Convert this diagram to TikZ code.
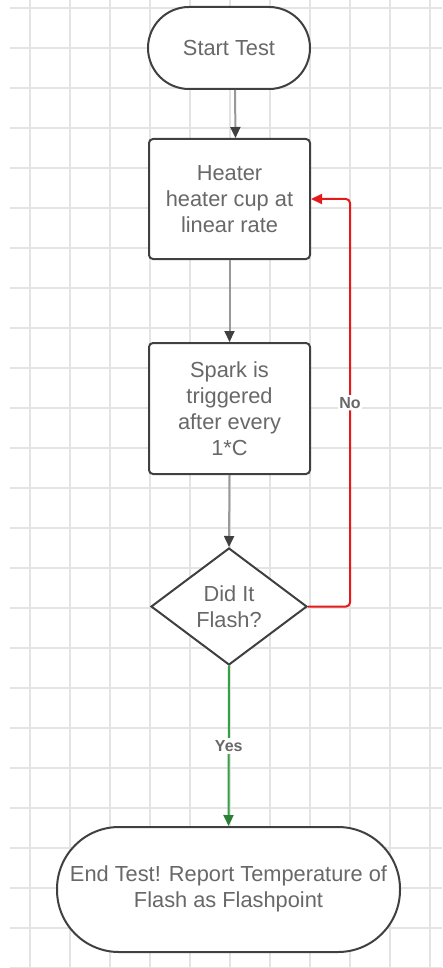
\documentclass[tikz,border=0pt]{standalone}
\usepackage{fontspec}
\setmainfont{Liberation Sans}
\usetikzlibrary{arrows.meta,shapes.geometric}
\definecolor{gridc}{HTML}{E4E4E4}
\definecolor{edgec}{HTML}{404040}
\definecolor{txtc}{HTML}{686868}
\definecolor{linkc}{HTML}{999999}
\definecolor{noc}{HTML}{E51A1A}
\definecolor{yesc}{HTML}{34A043}
\tikzset{
  shapebase/.style={draw=edgec, line width=2pt, fill=white, text=txtc,
    align=center, inner sep=0pt,
    font=\fontsize{21.8pt}{26pt}\selectfont},
  terminal/.style={shapebase, rectangle, rounded corners=#1},
  stepbox/.style={shapebase, rectangle, rounded corners=4pt,
    minimum width=161pt},
  decision/.style={shapebase, diamond, minimum width=156pt, minimum height=117pt},
  flow/.style={draw=linkc, line width=2pt,
    -{Triangle[width=10pt,length=11pt,color=edgec]}},
  branchlbl/.style={font=\bfseries\fontsize{16pt}{18pt}\selectfont, text=txtc,
    fill=white, inner sep=2pt}
}
\begin{document}
\begin{tikzpicture}[x=1pt,y=-1pt]
  \useasboundingbox (0,0) rectangle (442,968);
  % background grid
  \foreach \gx in {30,70,...,430}
    \draw[gridc, line width=1.4pt] (\gx,0) -- (\gx,968);
  \foreach \gy in {8,48,...,968}
    \draw[gridc, line width=1.4pt] (10,\gy) -- (442,\gy);

  % process nodes
  \node[terminal=41pt, minimum width=162pt, minimum height=82pt]
    (start) at (229,48) {Start Test};
  \node[stepbox, minimum height=120pt] (heat) at (229.5,199)
    {Heater\\heater cup at\\linear rate};
  \node[stepbox, minimum height=131pt] (spark) at (229.5,408.5)
    {Spark is\\triggered\\after every\\1*C};
  \node[decision] (dec) at (229,606.5) {Did It\\Flash?};
  \node[terminal=62pt, minimum width=343pt, minimum height=125pt]
    (endn) at (228.5,889.5)
    {\raisebox{4pt}{\begin{tabular}{@{}c@{}}End Test! Report Temperature of\\Flash as Flashpoint\end{tabular}}};

  % connectors
  \draw[flow] ([xshift=6pt]start.south) -- ([xshift=6pt]heat.north);
  \draw[flow] (heat.south) -- (spark.north);
  \draw[flow] (spark.south) -- (dec.north);
  \draw[flow, draw=yesc, -{Triangle[width=10pt,length=11pt,color=yesc!80!black]}]
    (dec.south) -- node[branchlbl] {Yes} (endn.north);
  \draw[flow, draw=noc, rounded corners=4pt,
    -{Triangle[width=10pt,length=11pt,color=noc]}]
    (dec.east) -- ++(42,0) |- node[branchlbl, pos=0.25] {No} (heat.east);
\end{tikzpicture}
\end{document}
